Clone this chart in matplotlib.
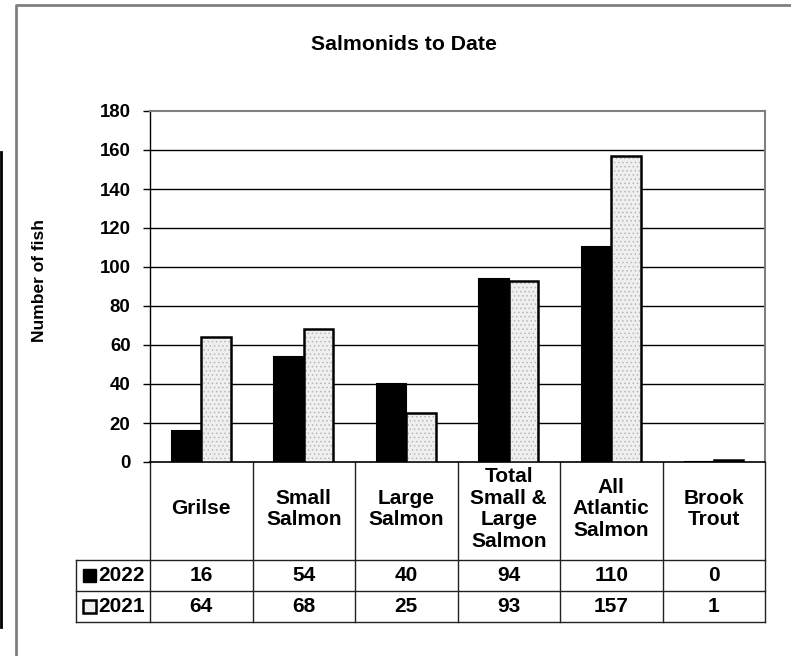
import matplotlib
matplotlib.use("Agg")
import matplotlib.pyplot as plt
from matplotlib.lines import Line2D
from matplotlib.patches import Rectangle
import matplotlib.transforms as mtransforms

plt.rcParams['font.family'] = ['Liberation Sans', 'DejaVu Sans']
plt.rcParams['font.weight'] = 'bold'
plt.rcParams['hatch.linewidth'] = 0.6

categories = ["Grilse", "Small\nSalmon", "Large\nSalmon", "Total\nSmall &\nLarge\nSalmon",
              "All\nAtlantic\nSalmon", "Brook\nTrout"]
series_names = ["2022", "2021"]
values_2022 = [16, 54, 40, 94, 110, 0]
values_2021 = [64, 68, 25, 93, 157, 1]
yticks = [0, 20, 40, 60, 80, 100, 120, 140, 160, 180]

W, H = 791, 656
fig = plt.figure(figsize=(W / 100, H / 100), dpi=100)

def fx(px):
    return px / W

def fy(py):
    return 1 - py / H

# outer frame (grey) and left black strip
fig.add_artist(Line2D([fx(16), fx(16), fx(791)], [fy(656), fy(5), fy(5)],
                      color='#7f7f7f', lw=2, transform=fig.transFigure))
fig.add_artist(Line2D([fx(1), fx(1)], [fy(152), fy(627)], color='black', lw=2,
                      transform=fig.transFigure))

L, R, T, B = 150, 765, 111, 462
ax = fig.add_axes([fx(L), fy(B), fx(R) - fx(L), fy(T) - fy(B)])
ncat = len(categories)
ax.set_xlim(0, ncat)
ax.set_ylim(0, 180)

# grid lines
for v in yticks[1:-1]:
    ax.axhline(v, color='black', lw=1, zorder=1)

bw = 0.29
xs = [i + 0.5 for i in range(ncat)]
ax.bar([x - bw / 2 for x in xs], values_2022, width=bw, color='black',
       edgecolor='black', lw=1.5, zorder=3)
ax.bar([x + bw / 2 for x in xs], values_2021, width=bw, color='#efefef',
       edgecolor='#b8b8b8', hatch='....', lw=0, zorder=3)
ax.bar([x + bw / 2 for x in xs], values_2021, width=bw, facecolor='none',
       edgecolor='black', lw=1.8, zorder=4)

for s in ['top', 'right']:
    ax.spines[s].set_color('#808080')
    ax.spines[s].set_linewidth(1.5)
ax.spines['left'].set_color('black')
ax.spines['bottom'].set_color('black')
ax.spines['left'].set_linewidth(1)
ax.spines['bottom'].set_linewidth(1.2)
ax.set_yticks(yticks)
ax.set_yticklabels([str(v) for v in yticks], fontsize=13.4, fontweight='bold')
ax.tick_params(axis='y', direction='out', length=5, width=1, pad=9)
ax.set_xticks([])

fig.text(fx(39), fy(281), "Number of fish", rotation=90, ha='center', va='center',
         fontsize=12.5, fontweight='bold')

fig.text(fx(404), fy(44), "Salmonids to Date", ha='center', va='center',
         fontsize=15.3, fontweight='bold')

# table below the axes (x in data units, y in figure pixels)
trans = mtransforms.blended_transform_factory(ax.transData, fig.transFigure)
row_top, row1, row2, row_bot = B, 560, 591, 622
lab_left = -(L - 76) / ((R - L) / ncat)
lc = '#222222'
for i in range(ncat + 1):
    ax.add_line(Line2D([i, i], [fy(row_top), fy(row_bot)], color=lc, lw=1,
                       transform=trans, clip_on=False))
ax.add_line(Line2D([lab_left, lab_left], [fy(row1), fy(row_bot)], color=lc, lw=1,
                   transform=trans, clip_on=False))
for yy in [row1, row2, row_bot]:
    ax.add_line(Line2D([lab_left, ncat], [fy(yy), fy(yy)], color=lc, lw=1,
                       transform=trans, clip_on=False))

for x, c in zip(xs, categories):
    ax.text(x, fy(509), c, transform=trans, ha='center',
            va='center', fontsize=15, fontweight='bold', linespacing=1.17,
            clip_on=False)

rows = [values_2022, values_2021]
row_mid = [(row1 + row2) / 2, (row2 + row_bot) / 2]
for r, (vals, ym) in enumerate(zip(rows, row_mid)):
    for x, v in zip(xs, vals):
        ax.text(x, fy(ym), str(v), transform=trans, ha='center', va='center',
                fontsize=15, fontweight='bold', clip_on=False)
    ax.text(fx(98), fy(ym), series_names[r], transform=fig.transFigure,
            ha='left', va='center', fontsize=15, fontweight='bold')

# legend keys
ks = 13
fig.add_artist(Rectangle((fx(82.5), fy(row_mid[0] + ks / 2)), fx(ks), ks / H,
                         facecolor='black', edgecolor='black', lw=1,
                         transform=fig.transFigure))
fig.add_artist(Rectangle((fx(82.5), fy(row_mid[1] + ks / 2)), fx(ks), ks / H,
                         facecolor='#efefef', edgecolor='black', lw=1.8,
                         transform=fig.transFigure))

fig.savefig("out.png", dpi=100)
